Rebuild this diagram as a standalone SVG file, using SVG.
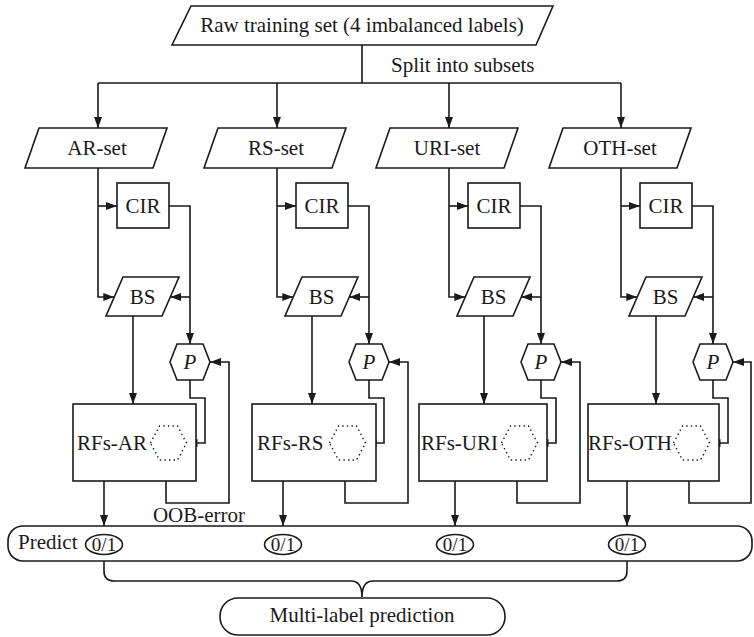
<svg xmlns="http://www.w3.org/2000/svg" width="754" height="637" viewBox="0 0 754 637">
<defs>
<marker id="ah" markerUnits="userSpaceOnUse" markerWidth="11" markerHeight="8" refX="11" refY="4" orient="auto">
<path d="M0,0 L11,4 L0,8 z" fill="#1a1a1a"/>
</marker>
<style>
.s{fill:#fff;stroke:#1a1a1a;stroke-width:1.6}
.c{fill:none;stroke:#1a1a1a;stroke-width:1.6}
.a{fill:none;stroke:#1a1a1a;stroke-width:1.6;marker-end:url(#ah)}
.d{fill:none;stroke:#1a1a1a;stroke-width:1.4;stroke-dasharray:1.4 3.2}
text{font-family:"Liberation Serif","Times New Roman",serif;font-size:21px;fill:#1a1a1a}
.m{text-anchor:middle}
.i{font-style:italic}
.o{font-size:19px}
</style>
</defs>
<rect width="754" height="637" fill="#fff"/>

<g id="connectors">
<path class="c" d="M362,45 V83 M98,83 H621"/>
<g transform="translate(98,0)">
<path class="a" d="M0,83 V128"/><path class="a" d="M0,168 V297 H16.3"/><path class="a" d="M0,206 H19"/>
<path class="a" d="M71,206 H92 V344"/><path class="a" d="M92,297 H72.3"/><path class="a" d="M35,316 V404"/>
<path class="a" d="M92,380 V398 H107 V443 H88.5"/><path class="a" d="M68,481 V503 H131 V362 H112"/><path class="a" d="M6,481 V526"/>
</g>
<g transform="translate(277,0)">
<path class="a" d="M0,83 V128"/><path class="a" d="M0,168 V297 H16.3"/><path class="a" d="M0,206 H19"/>
<path class="a" d="M71,206 H92 V344"/><path class="a" d="M92,297 H72.3"/><path class="a" d="M35,316 V404"/>
<path class="a" d="M92,380 V398 H107 V443 H88.5"/><path class="a" d="M68,481 V503 H131 V362 H112"/><path class="a" d="M6,481 V526"/>
</g>
<g transform="translate(449,0)">
<path class="a" d="M0,83 V128"/><path class="a" d="M0,168 V297 H16.3"/><path class="a" d="M0,206 H19"/>
<path class="a" d="M71,206 H92 V344"/><path class="a" d="M92,297 H72.3"/><path class="a" d="M35,316 V404"/>
<path class="a" d="M92,380 V398 H107 V443 H88.5"/><path class="a" d="M68,481 V503 H131 V362 H112"/><path class="a" d="M6,481 V526"/>
</g>
<g transform="translate(621,0)">
<path class="a" d="M0,83 V128"/><path class="a" d="M0,168 V297 H16.3"/><path class="a" d="M0,206 H19"/>
<path class="a" d="M71,206 H92 V344"/><path class="a" d="M92,297 H72.3"/><path class="a" d="M35,316 V404"/>
<path class="a" d="M92,380 V398 H107 V443 H88.5"/><path class="a" d="M68,481 V503 H130 V362 H112"/><path class="a" d="M6,481 V526"/>
</g>
<path class="c" d="M104,561 V571 Q104,581 114,581 H351 Q362,581 362,597 Q362,581 373,581 H617 Q627,581 627,571 V561"/>
</g>

<g id="raw">
<polygon class="s" points="191,6 553,6 536,45 172,45"/>
<text class="m" x="362" y="32">Raw training set (4 imbalanced labels)</text>
</g>
<text id="split-label" x="391" y="72">Split into subsets</text>

<g id="AR" transform="translate(98,0)">
<g id="AR-set"><polygon class="s" points="-59,128 69,128 55,168 -73,168"/><text class="m" x="-1" y="155">AR-set</text></g>
<g id="AR-CIR"><rect class="s" x="19" y="183" width="52" height="45"/><text class="m" x="45" y="213">CIR</text></g>
<g id="AR-BS"><polygon class="s" points="25,277 81,277 64,316 8,316"/><text class="m" x="44.5" y="304">BS</text></g>
<g id="AR-P"><polygon class="s" points="72,362 79,344 105,344 112,362 105,380 79,380"/><text class="m i" x="92" y="369">P</text></g>
<g id="AR-RFs"><rect class="s" x="-25" y="404" width="123" height="77"/><polygon class="d" points="52.5,443 61.5,426 79.5,426 88.5,443 79.5,460 61.5,460"/><text x="-21" y="450">RFs-AR</text></g>
</g>

<g id="RS" transform="translate(277,0)">
<g id="RS-set"><polygon class="s" points="-59,128 69,128 55,168 -73,168"/><text class="m" x="-1" y="155">RS-set</text></g>
<g id="RS-CIR"><rect class="s" x="19" y="183" width="52" height="45"/><text class="m" x="45" y="213">CIR</text></g>
<g id="RS-BS"><polygon class="s" points="25,277 81,277 64,316 8,316"/><text class="m" x="44.5" y="304">BS</text></g>
<g id="RS-P"><polygon class="s" points="72,362 79,344 105,344 112,362 105,380 79,380"/><text class="m i" x="92" y="369">P</text></g>
<g id="RS-RFs"><rect class="s" x="-25" y="404" width="124" height="77"/><polygon class="d" points="52.5,443 61.5,426 79.5,426 88.5,443 79.5,460 61.5,460"/><text x="-20" y="450">RFs-RS</text></g>
</g>

<g id="URI" transform="translate(449,0)">
<g id="URI-set"><polygon class="s" points="-59,128 69,128 55,168 -73,168"/><text class="m" x="-2" y="155">URI-set</text></g>
<g id="URI-CIR"><rect class="s" x="19" y="183" width="52" height="45"/><text class="m" x="45" y="213">CIR</text></g>
<g id="URI-BS"><polygon class="s" points="25,277 81,277 64,316 8,316"/><text class="m" x="44.5" y="304">BS</text></g>
<g id="URI-P"><polygon class="s" points="72,362 79,344 105,344 112,362 105,380 79,380"/><text class="m i" x="92" y="369">P</text></g>
<g id="URI-RFs"><rect class="s" x="-30" y="404" width="128" height="77"/><polygon class="d" points="52.5,443 61.5,426 79.5,426 88.5,443 79.5,460 61.5,460"/><text x="-28" y="450">RFs-URI</text></g>
</g>

<g id="OTH" transform="translate(621,0)">
<g id="OTH-set"><polygon class="s" points="-58,128 70,128 56,168 -72,168"/><text class="m" x="-1" y="155">OTH-set</text></g>
<g id="OTH-CIR"><rect class="s" x="19" y="183" width="52" height="45"/><text class="m" x="45" y="213">CIR</text></g>
<g id="OTH-BS"><polygon class="s" points="25,277 81,277 64,316 8,316"/><text class="m" x="44.5" y="304">BS</text></g>
<g id="OTH-P"><polygon class="s" points="72,362 79,344 105,344 112,362 105,380 79,380"/><text class="m i" x="92" y="369">P</text></g>
<g id="OTH-RFs"><rect class="s" x="-33" y="404" width="131" height="77"/><polygon class="d" points="52.5,443 61.5,426 79.5,426 88.5,443 79.5,460 61.5,460"/><text x="-33" y="450">RFs-OTH</text></g>
</g>

<text id="oob-label" class="m" x="199" y="522">OOB-error</text>

<g id="predict">
<rect class="s" x="8" y="526" width="744" height="35" rx="15" ry="15"/>
<text x="18" y="549">Predict</text>
<ellipse class="s" cx="104" cy="544.5" rx="18.5" ry="10"/><text class="m o" x="104" y="551">0/1</text>
<ellipse class="s" cx="283" cy="544.5" rx="18.5" ry="10"/><text class="m o" x="283" y="551">0/1</text>
<ellipse class="s" cx="455" cy="544.5" rx="18.5" ry="10"/><text class="m o" x="455" y="551">0/1</text>
<ellipse class="s" cx="627" cy="544.5" rx="18.5" ry="10"/><text class="m o" x="627" y="551">0/1</text>
</g>

<g id="multi">
<rect class="s" x="220" y="598" width="285" height="37" rx="18" ry="18"/>
<text class="m" x="362" y="622">Multi-label prediction</text>
</g>
</svg>
